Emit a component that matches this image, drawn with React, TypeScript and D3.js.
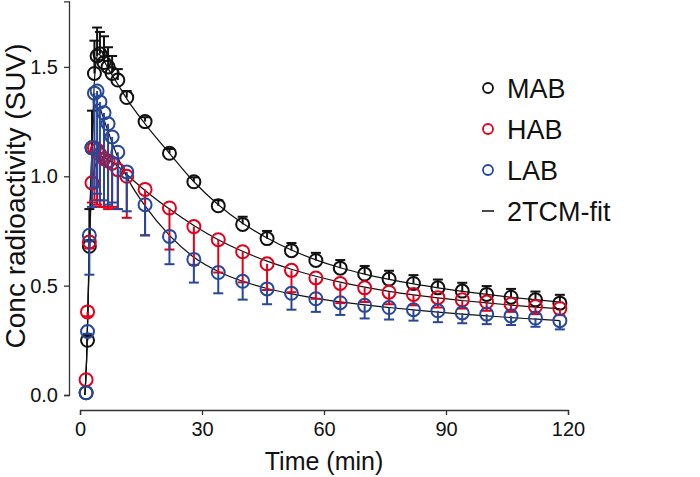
import React from "react";
import { scaleLinear, axisBottom, axisLeft, select, line, curveMonotoneX } from "d3";

// frame mid-times (min)
const times = [1.5, 1.85, 2.3, 2.95, 3.55, 4.2, 4.9, 5.9, 6.9, 7.9, 9.3, 11.5, 16, 22, 28, 34, 40, 46, 52, 58, 64, 70, 76, 82, 88, 94, 100, 106, 112, 118];

const mabValues = [0.01, 0.25, 0.68, 1.13, 1.47, 1.55, 1.56, 1.52, 1.5, 1.47, 1.44, 1.36, 1.25, 1.105, 0.975, 0.865, 0.78, 0.715, 0.66, 0.615, 0.58, 0.553, 0.53, 0.51, 0.49, 0.475, 0.46, 0.447, 0.435, 0.42];
const mabErr = [0, 0.02, 0.17, 0.17, 0.15, 0.13, 0.1, 0.12, 0.09, 0.08, 0.05, 0.03, 0.02, 0.02, 0.02, 0.025, 0.035, 0.035, 0.035, 0.035, 0.037, 0.037, 0.038, 0.038, 0.038, 0.038, 0.038, 0.038, 0.038, 0.038];

const habValues = [0.07, 0.38, 0.7, 0.97, 1.13, 1.12, 1.1, 1.08, 1.07, 1.06, 1.03, 1.0, 0.94, 0.855, 0.77, 0.71, 0.655, 0.6, 0.57, 0.535, 0.51, 0.49, 0.47, 0.46, 0.445, 0.435, 0.425, 0.415, 0.405, 0.395];
const habErr = [0, 0.02, 0.03, 0.09, 0.24, 0.25, 0.24, 0.22, 0.22, 0.2, 0.18, 0.19, 0.21, 0.19, 0.175, 0.15, 0.14, 0.12, 0.1, 0.095, 0.09, 0.065, 0.055, 0.05, 0.045, 0.04, 0.04, 0.035, 0.035, 0.03];

const labValues = [0.01, 0.29, 0.73, 1.13, 1.38, 1.39, 1.34, 1.29, 1.24, 1.18, 1.11, 1.02, 0.87, 0.725, 0.62, 0.56, 0.52, 0.485, 0.465, 0.44, 0.422, 0.41, 0.4, 0.39, 0.385, 0.375, 0.37, 0.362, 0.352, 0.34];
const labErr = [0, 0.01, 0.18, 0.27, 0.43, 0.47, 0.45, 0.4, 0.37, 0.3, 0.26, 0.18, 0.14, 0.127, 0.106, 0.095, 0.084, 0.07, 0.075, 0.06, 0.056, 0.06, 0.055, 0.05, 0.052, 0.047, 0.046, 0.042, 0.04, 0.04];

// 2TCM fitted curves
const fitTimes = [1.2, 1.6, 2.0, 2.5, 3.0, 3.5, 4.0, 4.5, 5.5, 7, 9, 12, 16, 22, 28, 34, 40, 46, 52, 58, 64, 70, 76, 82, 88, 94, 100, 106, 112, 118];
const mabFit = [0, 0.15, 0.42, 0.85, 1.17, 1.42, 1.53, 1.56, 1.54, 1.49, 1.43, 1.34, 1.24, 1.105, 0.975, 0.87, 0.785, 0.718, 0.663, 0.618, 0.582, 0.553, 0.529, 0.508, 0.49, 0.474, 0.46, 0.447, 0.436, 0.425];
const habFit = [0, 0.15, 0.42, 0.78, 0.96, 1.03, 1.06, 1.08, 1.09, 1.075, 1.05, 1.0, 0.935, 0.85, 0.775, 0.71, 0.657, 0.612, 0.575, 0.543, 0.516, 0.493, 0.474, 0.458, 0.444, 0.432, 0.421, 0.411, 0.402, 0.394];
const labFit = [0, 0.15, 0.45, 0.88, 1.15, 1.29, 1.33, 1.33, 1.28, 1.2, 1.1, 0.98, 0.865, 0.73, 0.63, 0.565, 0.52, 0.487, 0.462, 0.442, 0.426, 0.412, 0.4, 0.389, 0.379, 0.37, 0.362, 0.354, 0.347, 0.34];

const xTicks = [0, 30, 60, 90, 120];
const yTicks = [0, 0.5, 1.0, 1.5];

const FONT = "'Liberation Sans', Arial, sans-serif";

function App() {
  const width = 700;
  const height = 477;

  const xScale = scaleLinear().domain([0, 120]).range([80, 568]);
  const yScale = scaleLinear().domain([0, 1.8]).range([395, 1.3]);

  const series = [
    { name: "MAB", color: "#111111", values: mabValues, err: mabErr, dir: -1, fit: mabFit },
    { name: "HAB", color: "#e2001a", values: habValues, err: habErr, dir: 1, fit: habFit },
    { name: "LAB", color: "#27479b", values: labValues, err: labErr, dir: 1, fit: labFit },
  ];

  const fitLine = line<number>()
    .x((_, i) => xScale(fitTimes[i]))
    .y((d) => yScale(d))
    .curve(curveMonotoneX);

  const xAxisRef = (el) => {
    if (el) {
      const g = select(el);
      g.call(axisBottom(xScale).tickValues(xTicks).tickSizeOuter(0).tickSize(5).tickPadding(7));
      g.selectAll("path, line").attr("stroke", "#333").attr("stroke-width", 1.3);
      g.selectAll("text").attr("font-size", 20).attr("font-family", FONT).attr("fill", "#111");
      g.attr("font-family", FONT);
    }
  };

  const yAxisRef = (el) => {
    if (el) {
      const g = select(el);
      g.call(axisLeft(yScale).tickValues(yTicks).tickFormat((d) => d.toFixed(1)).tickSizeOuter(0).tickSize(5).tickPadding(6));
      g.selectAll("path, line").attr("stroke", "#333").attr("stroke-width", 1.3);
      g.selectAll("text").attr("font-size", 20).attr("font-family", FONT).attr("fill", "#111");
      g.attr("font-family", FONT);
    }
  };

  const legendY = [88, 129, 170, 211];

  return (
    <svg width={width} height={height} style={{ position: "absolute", left: 0, top: 0, background: "#fff" }}>
      <rect width={width} height={height} fill="#fff" />
      <g ref={xAxisRef} transform="translate(0, 410)" />
      <g ref={yAxisRef} transform="translate(69, 0)" />

      {series.map((s) => (
        <path key={s.name + "fit"} d={fitLine(s.fit)} fill="none" stroke="#111" strokeWidth={1.2} />
      ))}

      {series.map((s) => (
        <g key={s.name}>
          {s.values.map((v, i) => {
            const x = xScale(times[i]);
            const y0 = yScale(v);
            const y1 = yScale(v - s.dir * s.err[i]);
            return (
              <g key={i}>
                {s.err[i] > 0 && (
                  <>
                    <line x1={x} x2={x} y1={y0} y2={y1} stroke={s.color} strokeWidth={2} />
                    <line x1={x - 5} x2={x + 5} y1={y1} y2={y1} stroke={s.color} strokeWidth={2} />
                  </>
                )}
                <circle cx={x} cy={y0} r={6.5} fill="none" stroke={s.color} strokeWidth={2} />
              </g>
            );
          })}
        </g>
      ))}

      {series.map((s, i) => (
        <g key={s.name + "leg"}>
          <circle cx={488} cy={legendY[i]} r={5} fill="none" stroke={s.color} strokeWidth={1.8} />
          <text x={507} y={legendY[i] + 10} fontSize={27} fontFamily={FONT} fill="#111">
            {s.name}
          </text>
        </g>
      ))}
      <line x1={482} x2={494} y1={legendY[3]} y2={legendY[3]} stroke="#111" strokeWidth={1.5} />
      <text x={507} y={legendY[3] + 10} fontSize={27} fontFamily={FONT} fill="#111">
        2TCM-fit
      </text>

      <text x={324} y={470} textAnchor="middle" fontSize={25} fontFamily={FONT} fill="#111">
        Time (min)
      </text>
      <text
        transform="translate(25, 196) rotate(-90)"
        textAnchor="middle"
        fontSize={28}
        fontFamily={FONT}
        fill="#111"
      >
        Conc radioactivity (SUV)
      </text>
    </svg>
  );
}

export default App;
